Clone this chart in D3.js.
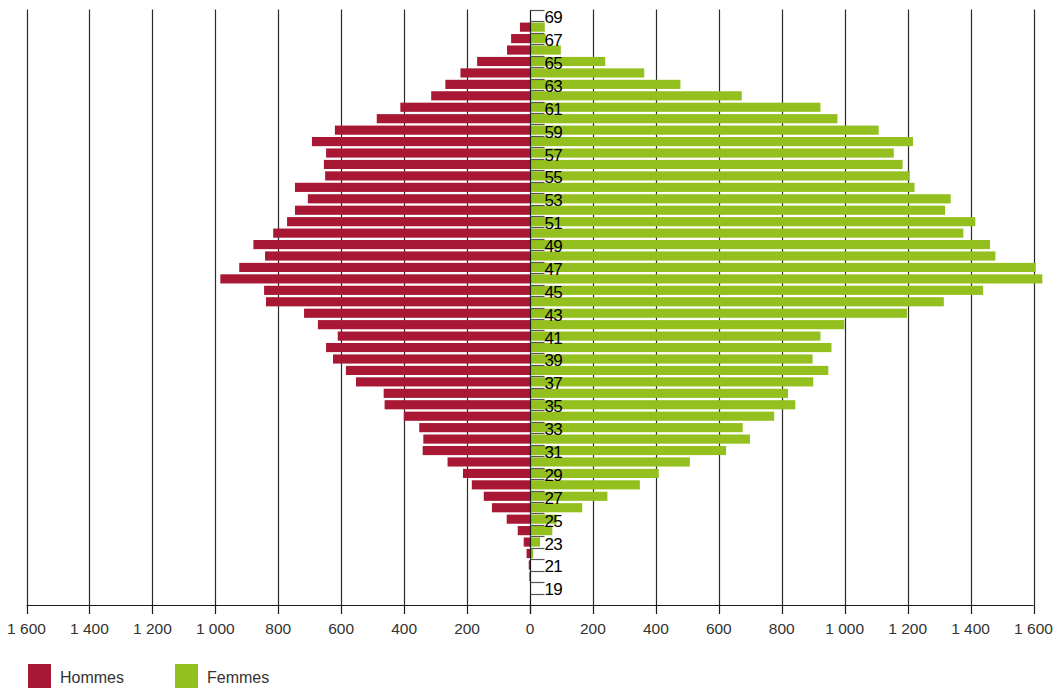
<!DOCTYPE html>
<html>
<head>
<meta charset="utf-8">
<script src="https://cdn.jsdelivr.net/npm/d3@7"></script>
<style>
  html, body { margin: 0; padding: 0; background: #fff; }
  svg { display: block; }
  text { font-family: "Liberation Sans Narrow", "Arial Narrow", "Liberation Sans", Arial, sans-serif; }
</style>
</head>
<body>
<svg id="chart" width="1057" height="688"></svg>
<script>
// Ages from top (69) to bottom (18)
const ages = [69,68,67,66,65,64,63,62,61,60,59,58,57,56,55,54,53,52,51,50,49,48,47,46,45,44,43,42,41,40,39,38,37,36,35,34,33,32,31,30,29,28,27,26,25,24,23,22,21,20,19,18];
const hommes = [0,32,60,73,168,221,269,314,412,487,620,693,648,655,651,747,706,747,772,816,879,842,924,984,845,839,718,674,611,648,626,585,553,465,462,401,352,339,341,262,213,185,147,121,74,39,20,11,4,2,0,0];
const femmes = [0,47,50,98,239,363,478,673,923,977,1108,1217,1156,1184,1207,1222,1337,1319,1415,1377,1462,1479,1607,1628,1440,1315,1198,999,923,958,898,948,900,820,843,776,676,699,623,508,409,349,246,166,85,71,32,10,1,1,0,0];
const ageLabels = [69,67,65,63,61,59,57,55,53,51,49,47,45,43,41,39,37,35,33,31,29,27,25,23,21,19];
const xTicks = [-1600,-1400,-1200,-1000,-800,-600,-400,-200,0,200,400,600,800,1000,1200,1400,1600];
const seriesNames = ["Hommes", "Femmes"];
const colors = ["#a81834", "#93c01f"];

(function () {
const svg = d3.select("#chart");
const plotTop = 10, plotBottom = 605;
const x = d3.scaleLinear().domain([-1600, 1600]).range([26.5, 1033.5]);
const y = d3.scaleBand().domain(ages).range([plotTop, plotBottom]).paddingInner(0.2).paddingOuter(0.1);
const step = y.step();
const boundary = a => y(a) - step * 0.1;

const loc = d3.formatLocale({decimal: ",", thousands: "\u00a0", grouping: [3], currency: ["", ""]});
const fmt = loc.format(",d");

// vertical grid lines
svg.append("g").selectAll("line").data(xTicks.filter(d => d !== 0)).join("line")
  .attr("x1", d => Math.round(x(d)) + 0.5).attr("x2", d => Math.round(x(d)) + 0.5)
  .attr("y1", plotTop - 0.5).attr("y2", plotBottom)
  .attr("stroke", "#2a2a2a").attr("stroke-width", 1.2);

const data = ages.map((a, i) => ({age: a, h: hommes[i], f: femmes[i]}));

// bars
svg.append("g").selectAll("rect").data(data.filter(d => d.h > 0)).join("rect")
  .attr("x", d => x(-d.h)).attr("width", d => x(0) - x(-d.h))
  .attr("y", d => y(d.age)).attr("height", y.bandwidth())
  .attr("fill", colors[0]);
svg.append("g").selectAll("rect").data(data.filter(d => d.f > 0)).join("rect")
  .attr("x", x(0)).attr("width", d => x(d.f) - x(0))
  .attr("y", d => y(d.age)).attr("height", y.bandwidth())
  .attr("fill", colors[1]);

// y axis (center)
const x0 = Math.round(x(0)) + 0.5;
svg.append("line").attr("x1", x0).attr("x2", x0).attr("y1", plotTop).attr("y2", plotBottom + 9)
  .attr("stroke", "#1a1a1a").attr("stroke-width", 1.2);
svg.append("g").selectAll("line").data(ages).join("line")
  .attr("x1", x0).attr("x2", x0 + 14)
  .attr("y1", d => Math.round(boundary(d)) + 0.5).attr("y2", d => Math.round(boundary(d)) + 0.5)
  .attr("stroke", "#555").attr("stroke-width", 1.2);

svg.append("g").selectAll("text").data(ageLabels).join("text")
  .attr("x", x0 + 14).attr("y", d => y(d) + y.bandwidth() / 2 + 7.5)
  .attr("font-size", 17).attr("fill", "#000").attr("font-weight", 500)
  .attr("letter-spacing", -0.6)
  .text(d => d);

// x axis
const xAxisG = svg.append("g").attr("transform", `translate(0,${plotBottom})`);
xAxisG.append("line").attr("x1", x(-1600)).attr("x2", x(1600)).attr("y1", 0.5).attr("y2", 0.5)
  .attr("stroke", "#1a1a1a").attr("stroke-width", 1.2);
xAxisG.selectAll("line.tk").data(xTicks).join("line").attr("class", "tk")
  .attr("x1", d => Math.round(x(d)) + 0.5).attr("x2", d => Math.round(x(d)) + 0.5)
  .attr("y1", 0).attr("y2", 9)
  .attr("stroke", "#1a1a1a").attr("stroke-width", 1.2);
xAxisG.selectAll("text").data(xTicks).join("text")
  .attr("x", d => x(d)).attr("y", 28.5)
  .attr("text-anchor", "middle").attr("font-size", 15.5).attr("fill", "#333")
  .text(d => fmt(Math.abs(d)));

// legend
const legend = svg.append("g").selectAll("g").data(seriesNames).join("g")
  .attr("transform", (d, i) => `translate(${28 + i * 147},664)`);
legend.append("rect").attr("width", 23).attr("height", 24).attr("fill", (d, i) => colors[i]);
legend.append("text").attr("x", 32).attr("y", 19).attr("font-size", 16).attr("fill", "#333").text(d => d);
})();
</script>
</body>
</html>
